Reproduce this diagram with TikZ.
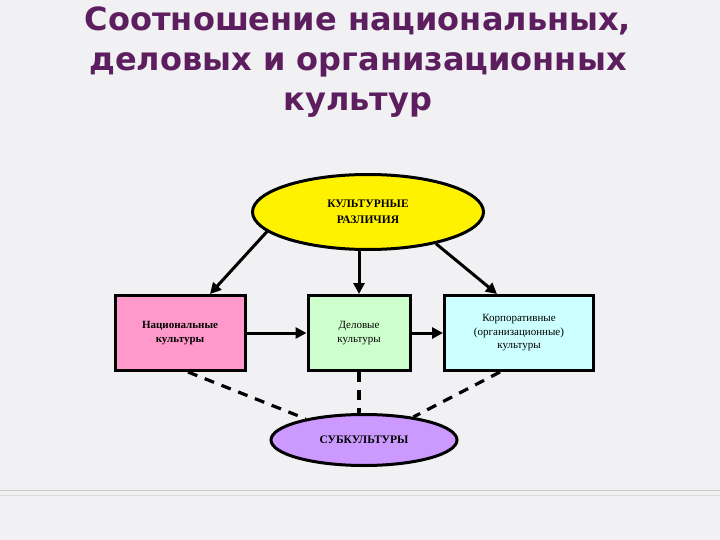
\documentclass[tikz,border=0pt]{standalone}
\usepackage{fontspec}
\setmainfont{Liberation Serif}
\newfontfamily\titlefont{DejaVu Sans}
\usetikzlibrary{shapes.geometric,arrows.meta}
\definecolor{bg}{HTML}{F1F0F3}
\definecolor{ttl}{HTML}{5C1E5E}
\begin{document}
\begin{tikzpicture}[x=1pt,y=-1pt,
  box/.style={draw=black,line width=3pt,minimum height=75pt,align=center,font=\fontsize{11}{13.5}\selectfont},
  ell/.style={ellipse,draw=black,line width=3pt,align=center,font=\bfseries\fontsize{11.5}{16}\selectfont},
  arr/.style={line width=3pt,-{Triangle[length=11pt,width=11pt]}},
  dsh/.style={line width=3.2pt,dash pattern=on 10pt off 8pt}]
\fill[bg] (0,0) rectangle (720,540);
\useasboundingbox (0,0) rectangle (720,540);
\draw[gray!40,line width=1pt] (0,490) -- (720,490);
\draw[gray!30,line width=0.6pt] (0,495) -- (720,495);
\node[font=\titlefont\bfseries\fontsize{32}{40}\selectfont,text=ttl,align=center] (title) at (358,62) {Соотношение национальных,\\деловых и организационных\\культур};
\node[ell,fill=yellow,minimum width=231pt,minimum height=75pt] (cd) at (368,212) {КУЛЬТУРНЫЕ\\РАЗЛИЧИЯ};
\node[box,fill={rgb,255:red,255;green,153;blue,204},minimum width=130pt] (nat) at (180,333) {\textbf{Национальные}\\\textbf{культуры}};
\node[box,fill={rgb,255:red,204;green,255;blue,204},minimum width=102pt] (del) at (359,333) {Деловые\\культуры};
\node[box,fill={rgb,255:red,204;green,255;blue,255},minimum width=149pt] (corp) at (519,333) {Корпоративные\\(организационные)\\культуры};
\node[ell,fill={rgb,255:red,204;green,153;blue,255},minimum width=186pt,minimum height=51pt] (sub) at (364,440) {СУБКУЛЬТУРЫ};
\draw[arr] (cd.191) -- (nat.north -| 210,0);
\draw[arr] (cd.south -| del.north) -- (del.north);
\draw[arr] (cd.335) -- (corp.north -| 497,0);
\draw[arr] (nat) -- (del);
\draw[arr] (del) -- (corp);
\draw[dsh] (nat.south -| 188,0) -- (sub.160);
\draw[dsh] (del.south) -- (sub.north -| del.south);
\draw[dsh] (corp.south -| 500,0) -- (sub.25);
\end{tikzpicture}
\end{document}
